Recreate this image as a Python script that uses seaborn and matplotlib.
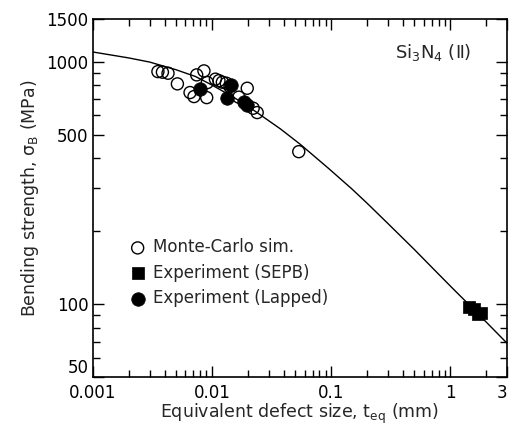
import numpy as np
import pandas as pd
import matplotlib
matplotlib.use("Agg")
import matplotlib.pyplot as plt
import seaborn as sns

# Monte-Carlo simulation (open circles)
mc_size = [0.00352, 0.00384, 0.00428, 0.00513, 0.00745, 0.00857, 0.00655, 0.00707,
           0.00904, 0.00915, 0.0107, 0.01146, 0.01223, 0.0132, 0.01416, 0.01683,
           0.0198, 0.0222, 0.0240, 0.0536]
mc_strength = [909, 904, 895, 809, 881, 915, 745, 717,
               710, 819, 846, 834, 822, 814, 788, 713,
               776, 642, 616, 425]

# Experiment, SEPB (filled squares)
sepb_size = [1.45, 1.6, 1.7, 1.8]
sepb_strength = [97, 95, 91, 92]

# Experiment, lapped (filled circles)
lap_size = [0.00793, 0.01436, 0.01346, 0.01854, 0.01954]
lap_strength = [771, 801, 706, 684, 663]

# fitted curve
curve_size = [0.001, 0.002, 0.003, 0.005, 0.0073, 0.01, 0.015, 0.02, 0.03, 0.0377,
              0.0554, 0.0957, 0.15, 0.2, 0.3, 0.5, 0.7, 1.07, 1.5, 2.0, 3.0]
curve_strength = [1095, 1035, 995, 925, 867, 800, 715, 655, 570, 527,
                  455, 362, 298, 261, 215, 168, 142, 115, 97.5, 84.5, 69]

xticks = [0.001, 0.01, 0.1, 1, 3]
xtick_labels = ["0.001", "0.01", "0.1", "1", "3"]
yticks = [50, 100, 500, 1000, 1500]
ytick_labels = ["50", "100", "500", "1000", "1500"]

mc_df = pd.DataFrame({"size": mc_size, "strength": mc_strength})
sepb_df = pd.DataFrame({"size": sepb_size, "strength": sepb_strength})
lap_df = pd.DataFrame({"size": lap_size, "strength": lap_strength})
curve_df = pd.DataFrame({"size": curve_size, "strength": curve_strength})

sns.set_style("ticks")
plt.rcParams["font.family"] = ["DejaVu Sans"]

fig = plt.figure(figsize=(5.1, 4.28), dpi=100)
ax = fig.add_axes([0.182, 0.119, 0.812, 0.837])

sns.lineplot(data=curve_df, x="size", y="strength", color="black", lw=1.0,
             estimator=None, sort=False, ax=ax)
sns.scatterplot(data=mc_df, x="size", y="strength", marker="o", s=75,
                facecolor="none", edgecolor="black", linewidth=1.0,
                label="Monte-Carlo sim.", ax=ax, zorder=3)
sns.scatterplot(data=sepb_df, x="size", y="strength", marker="s", s=70,
                color="black", edgecolor="black", linewidth=0.5,
                label="Experiment (SEPB)", ax=ax, zorder=4)
sns.scatterplot(data=lap_df, x="size", y="strength", marker="o", s=95,
                color="black", edgecolor="black", linewidth=0.5,
                label="Experiment (Lapped)", ax=ax, zorder=4)

ax.set_xscale("log")
ax.set_yscale("log")
ax.set_xlim(0.001, 3)
ax.set_ylim(50, 1500)
ax.set_xticks(xticks)
ax.set_xticklabels(xtick_labels)
ax.set_yticks(yticks)
ax.set_yticklabels(ytick_labels)
ax.yaxis.set_minor_locator(matplotlib.ticker.LogLocator(base=10, subs=np.arange(2, 10)))
ax.yaxis.set_minor_formatter(matplotlib.ticker.NullFormatter())
ax.xaxis.set_minor_locator(matplotlib.ticker.LogLocator(base=10, subs=np.arange(2, 10)))
ax.xaxis.set_minor_formatter(matplotlib.ticker.NullFormatter())

ax.tick_params(which="both", direction="in", top=True, right=True,
               labelsize=12, width=1.0, colors="black")
ax.tick_params(which="major", length=8, pad=3)
ax.tick_params(axis="x", which="major", pad=5)
ax.tick_params(which="minor", length=5)
for s in ax.spines.values():
    s.set_linewidth(1.2)
    s.set_color("black")

# "50" sits just above the corner, clear of "0.001"; "3" kept inside the figure
ax.get_yticklabels()[0].set_va("bottom")
ax.get_xticklabels()[-1].set_ha("right")

ax.set_xlabel("Equivalent defect size, t$_{\\rm eq}$ (mm)", fontsize=12.5, labelpad=0)
ax.set_ylabel("Bending strength, \u03c3$_{\\rm B}$ (MPa)", fontsize=12.5, labelpad=4)

ax.text(0.915, 0.905, "Si$_3$N$_4$ (\u2161)", transform=ax.transAxes,
        ha="right", va="center", fontsize=13)

ax.legend(loc="upper left", bbox_to_anchor=(0.06, 0.42), frameon=False,
          fontsize=12, handletextpad=0.4, labelspacing=0.45, borderpad=0.2,
          handlelength=1.0)

fig.savefig("out.png", dpi=100)
